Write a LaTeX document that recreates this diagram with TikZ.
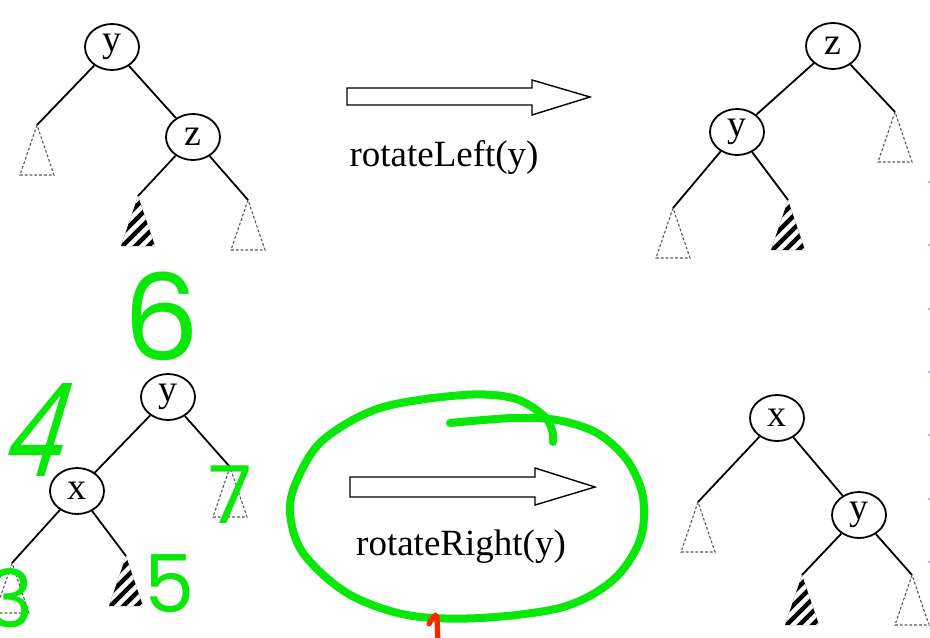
\documentclass[tikz,border=0pt]{standalone}
\usepackage{fontspec}
\setmainfont{Liberation Serif}
\newfontfamily\markerfont{Poppins}
\usetikzlibrary{shapes.geometric}

\definecolor{marker}{RGB}{10,232,10}
\definecolor{redpen}{RGB}{250,40,0}
\definecolor{rulerdot}{RGB}{150,200,240}

\tikzset{
  treenode/.style={ellipse, draw, line width=0.9pt, minimum width=27pt,
    minimum height=23pt, inner sep=0pt, font=\fontsize{19}{19}\selectfont},
  branch/.style={line width=0.9pt},
  opname/.style={anchor=base, inner sep=0pt, font=\fontsize{18.5}{18.5}\selectfont},
  bigarrow/.style={draw, line width=0.7pt, fill=white, line join=miter},
  penfigure/.style={text=marker, inner sep=0pt},
  % empty subtree: dashed triangle hanging from its apex
  subtree/.pic={
    \draw[black!65, line width=0.55pt, dash pattern=on 1.4pt off 1pt]
      (0,0) -- (-17,50) -- (17,50) -- cycle;
    \coordinate (-apex) at (0,0);
  },
  % the subtree that changes parent: black triangle with white stripes
  hatched/.pic={
    \begin{scope}
      \clip (0,0) -- (-17,50) -- (17,50) -- cycle;
      \fill (-20,-2) rectangle (20,52);
      \foreach \k in {-66,-53,...,30}
        \draw[white, line width=2.2pt] (\k,55) -- (\k+60,-5);
    \end{scope}
    \coordinate (-apex) at (0,0);
  }
}

\begin{document}
\begin{tikzpicture}[x=0.5pt, y=-0.5pt]
\path[use as bounding box, clip] (0,0) rectangle (930,637);
\fill[white] (0,0) rectangle (930,637);

% ---- rotateLeft: before ----
\node[treenode] (a-y) at (112,47) {y};
\node[treenode] (a-z) at (193,137) {z};
\pic (a-l) at (37,125) {subtree};
\pic (a-m) at (138,196) {hatched};
\pic (a-r) at (248,200) {subtree};
\draw[branch] (a-y) -- (a-l-apex);
\draw[branch] (a-y) -- (a-z);
\draw[branch] (a-z) -- (a-m-apex);
\draw[branch] (a-z) -- (a-r-apex);

% ---- rotateLeft: after ----
\node[treenode] (b-z) at (833,46) {z};
\node[treenode] (b-y) at (737,132) {y};
\pic (b-r) at (895,112) {subtree};
\pic (b-l) at (673,208) {subtree};
\pic (b-m) at (788,200) {hatched};
\draw[branch] (b-z) -- (b-y);
\draw[branch] (b-z) -- (b-r-apex);
\draw[branch] (b-y) -- (b-l-apex);
\draw[branch] (b-y) -- (b-m-apex);

% ---- rotateRight: before ----
\node[treenode] (c-y) at (168,397) {y};
\node[treenode] (c-x) at (77,491) {x};
\pic (c-r) at (230,467) {subtree};
\pic (c-l) at (12,563) {subtree};
\pic (c-m) at (126,556) {hatched};
\draw[branch] (c-y) -- (c-x);
\draw[branch] (c-y) -- (c-r-apex);
\draw[branch] (c-x) -- (c-l-apex);
\draw[branch] (c-x) -- (c-m-apex);

% ---- rotateRight: after ----
\node[treenode] (d-x) at (777,418) {x};
\node[treenode] (d-y) at (859,515) {y};
\pic (d-l) at (698,502) {subtree};
\pic (d-m) at (802,575) {hatched};
\pic (d-r) at (912,575) {subtree};
\draw[branch] (d-x) -- (d-l-apex);
\draw[branch] (d-x) -- (d-y);
\draw[branch] (d-y) -- (d-m-apex);
\draw[branch] (d-y) -- (d-r-apex);

% ---- operation arrows ----
\draw[bigarrow] (347,88) -- (532,88) -- (532,80) -- (590,97) -- (532,115)
  -- (532,105) -- (347,105) -- cycle;
\node[opname] (op-left) at (444,166) {rotateLeft(y)};

\draw[bigarrow] (350,477) -- (535,477) -- (535,468) -- (595,487) -- (535,505)
  -- (535,497) -- (350,497) -- cycle;
\node[opname] (op-right) at (461,555) {rotateRight(y)};

% ---- pen annotations ----
\draw[marker, line width=4pt, line cap=round, line join=round]
  plot[smooth, tension=0.55] coordinates {
    (450,423) (513,418) (557,420) (597,433) (627,460) (643,497) (640,540)
    (613,580) (563,607) (480,618) (407,615) (347,593) (303,553) (290,513)
    (297,480) (323,440) (380,408) (463,395) (513,398) (543,415) (552,430)
    (553,442)};

\node[penfigure, font={\markerfont\fontsize{60}{60}\selectfont}] (n6) at (162,316) {6};
\node[penfigure, font={\markerfont\fontsize{58}{58}\selectfont},
      xslant=0.3, xscale=0.8, yscale=1.12, transform shape] (n4) at (42,430) {4};
\node[penfigure, font={\markerfont\fontsize{40}{40}\selectfont}] (n7) at (230,495) {7};
\node[penfigure, font={\markerfont\fontsize{40}{40}\selectfont}] (n5) at (170,584) {5};
\node[penfigure, font={\markerfont\fontsize{40}{40}\selectfont}] (n3) at (10,598) {3};

\draw[redpen, line width=2.6pt, line cap=round]
  (429,624) .. controls (432,618) and (435,613) .. (437,617) -- (438,645);

% small ruler ticks along the right edge
\foreach \k in {0,...,7}
  \fill[rulerdot] (927.5,181+63.3*\k) rectangle +(2,2);
\end{tikzpicture}
\end{document}
